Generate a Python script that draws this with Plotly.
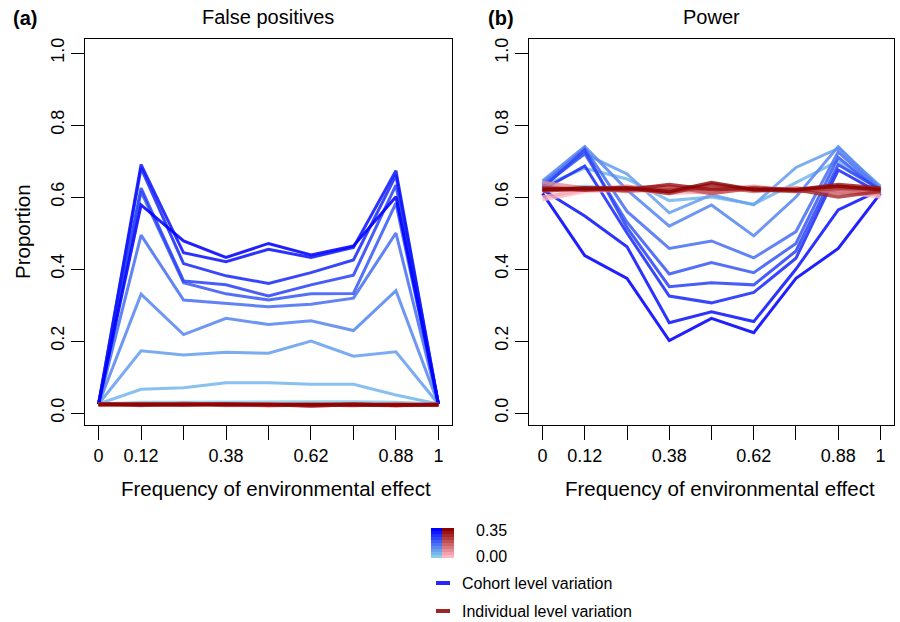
import plotly.graph_objects as go

# ---------------- data ----------------
freq_labels = ["0", "0.12", "0.25", "0.38", "0.5", "0.62", "0.75", "0.88", "1"]
tick_text = ["0", "0.12", "", "0.38", "", "0.62", "", "0.88", "1"]
y_ticks = [0.0, 0.2, 0.4, 0.6, 0.8, 1.0]
legend_levels = ["0.00", "0.35"]

# False positives, cohort-level variation (lightest -> darkest)
fp_cohort = [
    [0.025, 0.030, 0.030, 0.031, 0.031, 0.031, 0.031, 0.030, 0.025],
    [0.025, 0.066, 0.070, 0.084, 0.084, 0.080, 0.080, 0.050, 0.025],
    [0.025, 0.173, 0.161, 0.169, 0.166, 0.200, 0.158, 0.170, 0.025],
    [0.025, 0.330, 0.218, 0.263, 0.246, 0.256, 0.229, 0.340, 0.025],
    [0.025, 0.494, 0.314, 0.305, 0.295, 0.302, 0.319, 0.500, 0.025],
    [0.025, 0.615, 0.362, 0.331, 0.314, 0.331, 0.332, 0.583, 0.025],
    [0.025, 0.625, 0.367, 0.356, 0.325, 0.356, 0.383, 0.633, 0.025],
    [0.025, 0.680, 0.415, 0.381, 0.360, 0.390, 0.425, 0.660, 0.025],
    [0.025, 0.690, 0.445, 0.420, 0.455, 0.432, 0.460, 0.673, 0.025],
    [0.025, 0.578, 0.478, 0.432, 0.471, 0.439, 0.464, 0.601, 0.025],
]
# False positives, individual-level variation (lightest -> darkest)
fp_indiv = [
    [0.024, 0.022, 0.024, 0.021, 0.022, 0.021, 0.023, 0.020, 0.022],
    [0.022, 0.025, 0.022, 0.024, 0.020, 0.023, 0.021, 0.024, 0.023],
    [0.026, 0.023, 0.025, 0.022, 0.024, 0.020, 0.022, 0.021, 0.024],
    [0.023, 0.026, 0.023, 0.025, 0.021, 0.024, 0.025, 0.022, 0.022],
    [0.025, 0.021, 0.027, 0.023, 0.025, 0.022, 0.021, 0.025, 0.023],
    [0.022, 0.024, 0.022, 0.026, 0.023, 0.025, 0.023, 0.022, 0.024],
    [0.024, 0.023, 0.026, 0.022, 0.024, 0.019, 0.024, 0.023, 0.022],
    [0.023, 0.025, 0.024, 0.024, 0.022, 0.024, 0.022, 0.024, 0.023],
    [0.025, 0.022, 0.023, 0.025, 0.023, 0.022, 0.025, 0.021, 0.024],
    [0.024, 0.024, 0.025, 0.023, 0.024, 0.023, 0.022, 0.023, 0.023],
]
# Power, cohort-level variation (lightest -> darkest)
pw_cohort = [
    [0.625, 0.630, 0.625, 0.620, 0.620, 0.620, 0.620, 0.625, 0.620],
    [0.630, 0.680, 0.650, 0.590, 0.600, 0.580, 0.640, 0.700, 0.620],
    [0.640, 0.720, 0.664, 0.556, 0.606, 0.578, 0.682, 0.735, 0.630],
    [0.645, 0.740, 0.620, 0.519, 0.578, 0.492, 0.600, 0.740, 0.625],
    [0.635, 0.735, 0.560, 0.457, 0.478, 0.431, 0.504, 0.725, 0.620],
    [0.630, 0.720, 0.530, 0.386, 0.418, 0.390, 0.471, 0.710, 0.615],
    [0.625, 0.730, 0.515, 0.351, 0.362, 0.356, 0.450, 0.690, 0.620],
    [0.620, 0.686, 0.500, 0.325, 0.306, 0.335, 0.430, 0.675, 0.610],
    [0.620, 0.547, 0.462, 0.251, 0.281, 0.254, 0.400, 0.564, 0.620],
    [0.610, 0.437, 0.374, 0.201, 0.263, 0.223, 0.374, 0.457, 0.610],
]
# Power, individual-level variation (lightest -> darkest)
pw_indiv = [
    [0.592, 0.615, 0.620, 0.610, 0.615, 0.620, 0.625, 0.615, 0.600],
    [0.600, 0.620, 0.625, 0.620, 0.610, 0.625, 0.620, 0.620, 0.605],
    [0.640, 0.625, 0.620, 0.625, 0.620, 0.630, 0.615, 0.625, 0.610],
    [0.630, 0.620, 0.630, 0.615, 0.625, 0.620, 0.620, 0.630, 0.620],
    [0.620, 0.625, 0.615, 0.625, 0.630, 0.615, 0.625, 0.610, 0.615],
    [0.625, 0.620, 0.625, 0.630, 0.610, 0.625, 0.620, 0.620, 0.625],
    [0.615, 0.625, 0.620, 0.620, 0.625, 0.620, 0.615, 0.625, 0.620],
    [0.620, 0.620, 0.625, 0.610, 0.635, 0.620, 0.620, 0.600, 0.615],
    [0.625, 0.620, 0.620, 0.635, 0.620, 0.625, 0.620, 0.635, 0.625],
    [0.620, 0.625, 0.625, 0.615, 0.640, 0.620, 0.620, 0.630, 0.620],
]

# ---------------- colours ----------------
def ramp(c0, c1, n):
    out = []
    for i in range(n):
        t = i / (n - 1)
        out.append(tuple(round(c0[k] + (c1[k] - c0[k]) * t) for k in range(3)))
    return out

n_lev = len(fp_cohort)
blues = ramp((135, 206, 235), (0, 0, 255), n_lev)
reds = ramp((255, 182, 193), (139, 0, 0), n_lev)

def rgba(c, a):
    return f"rgba({c[0]},{c[1]},{c[2]},{a})"

x_idx = list(range(len(freq_labels)))

fig = go.Figure()

def add_panel(cohort, indiv, xa, ya):
    for i, ys in enumerate(cohort):
        fig.add_trace(go.Scatter(x=x_idx, y=ys, mode="lines", xaxis=xa, yaxis=ya,
                                 line=dict(color=rgba(blues[i], 0.88), width=3),
                                 showlegend=False, hoverinfo="skip"))
    for i, ys in enumerate(indiv):
        fig.add_trace(go.Scatter(x=x_idx, y=ys, mode="lines", xaxis=xa, yaxis=ya,
                                 line=dict(color=rgba(reds[i], 0.8), width=3.5),
                                 showlegend=False, hoverinfo="skip"))

add_panel(fp_cohort, fp_indiv, "x", "y")
add_panel(pw_cohort, pw_indiv, "x2", "y2")

W, H = 900, 622
def px(x):
    return x / W
def py(y):
    return 1 - y / H

font = "Liberation Sans, Arial, sans-serif"
xcommon = dict(range=[-0.32, 8.32], tickmode="array", tickvals=x_idx, ticktext=tick_text,
               ticks="outside", ticklen=14, tickwidth=1, tickcolor="black",
               showline=True, linecolor="black", linewidth=1, mirror=True,
               showgrid=False, zeroline=False, tickfont=dict(size=18, color="black", family=font))
ycommon = dict(range=[-0.0333, 1.0389], tickmode="array", tickvals=y_ticks,
               ticktext=[f"{v:.1f}" for v in y_ticks], tickangle=-90,
               ticks="outside", ticklen=13, tickwidth=1, tickcolor="black",
               showline=True, linecolor="black", linewidth=1, mirror=True,
               showgrid=False, zeroline=False, tickfont=dict(size=18, color="black", family=font))

ydom = [py(425), py(39)]
fig.update_layout(
    width=W, height=H, margin=dict(l=0, r=0, t=0, b=0),
    paper_bgcolor="white", plot_bgcolor="white",
    xaxis=dict(domain=[px(85), px(452)], anchor="y", **xcommon),
    yaxis=dict(domain=ydom, anchor="x", **ycommon),
    xaxis2=dict(domain=[px(529), px(894)], anchor="y2", **xcommon),
    yaxis2=dict(domain=ydom, anchor="x2", **ycommon),
    font=dict(family=font, color="black"),
)

ann = []
def text(x, y, s, size, xanchor="center", bold=False, angle=0):
    ann.append(dict(x=px(x), y=py(y), xref="paper", yref="paper", text=(f"<b>{s}</b>" if bold else s),
                    showarrow=False, xanchor=xanchor, yanchor="middle", textangle=angle,
                    font=dict(size=size, family=font, color="black")))

text(268, 17, "False positives", 20)
text(711, 17, "Power", 20)
text(11, 18, "(a)", 20, xanchor="left", bold=True)
text(486, 18, "(b)", 20, xanchor="left", bold=True)
text(276, 488, "Frequency of environmental effect", 20.5)
text(720, 488, "Frequency of environmental effect", 20.5)
text(22, 232, "Proportion", 20.5, angle=-90)

# legend
text(474, 530, legend_levels[1], 16, xanchor="left")
text(474, 556, legend_levels[0], 16, xanchor="left")
text(460, 583, "Cohort level variation", 16, xanchor="left")
text(460, 611, "Individual level variation", 16, xanchor="left")
fig.update_layout(annotations=ann)

shapes = []
top, bot = 528, 558
band = (bot - top) / n_lev
for i in range(n_lev):
    y1 = bot - i * band
    y0 = y1 - band
    shapes.append(dict(type="rect", xref="paper", yref="paper", x0=px(431), x1=px(442),
                       y0=py(y1), y1=py(y0), fillcolor=rgba(blues[i], 1), line=dict(width=0)))
    shapes.append(dict(type="rect", xref="paper", yref="paper", x0=px(442), x1=px(454),
                       y0=py(y1), y1=py(y0), fillcolor=rgba(reds[i], 1), line=dict(width=0)))
shapes.append(dict(type="line", xref="paper", yref="paper", x0=px(436), x1=px(450),
                   y0=py(583), y1=py(583), line=dict(color=rgba((0, 0, 255), 0.85), width=4)))
shapes.append(dict(type="line", xref="paper", yref="paper", x0=px(436), x1=px(450),
                   y0=py(611), y1=py(611), line=dict(color=rgba((139, 0, 0), 0.85), width=4)))
fig.update_layout(shapes=shapes)

fig.write_html("out.html")
